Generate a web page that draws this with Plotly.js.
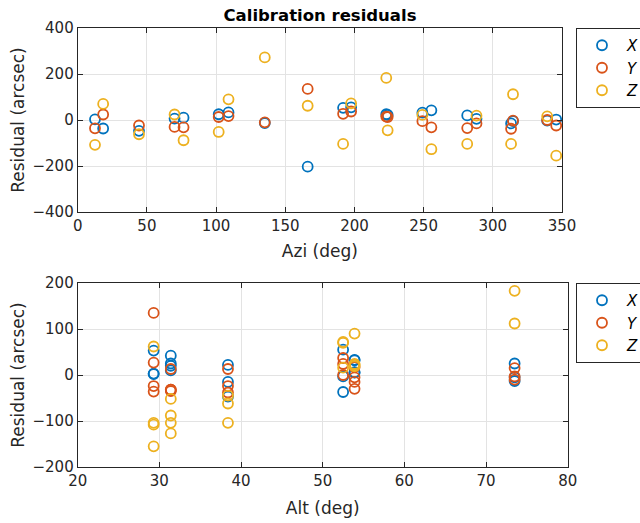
<!DOCTYPE html>
<html>
<head>
<meta charset="utf-8">
<script src="https://cdn.plot.ly/plotly-3.0.1.min.js"></script>
<style>html,body{margin:0;padding:0;background:#fff;overflow:hidden;}#chart{width:640px;height:523px;}</style>
</head>
<body>
<div id="chart"></div>
<script>
// Observation geometry (deg)
const azi = [12.5, 18.4, 44.3, 70.0, 76.5, 101.9, 109.0, 135.2, 166.2, 191.8, 197.6, 223.0, 224.0, 249.1, 255.6, 281.5, 288.2, 313.2, 314.6, 339.3, 345.8];
const alt = [29.3, 52.5, 38.4, 53.9, 31.4, 31.4, 53.9, 73.5, 29.3, 29.3, 52.5, 73.5, 38.4, 53.9, 31.4, 31.4, 53.9, 38.4, 73.5, 52.5, 29.3];
// Residuals (arcsec)
const resX = [3, -37, -47, 6, 10, 25, 33, -13, -203, 53, 55, 25, 22, 32, 42, 20, 5, -15, -5, -3, 2];
const resY = [-36, 24, -24, -30, -32, 13, 17, -10, 135, 27, 37, 15, 13, -5, -32, -35, -15, -38, -3, 0, -24];
const resZ = [-108, 70, -62, 24, -88, -52, 90, 272, 62, -104, 72, 183, -45, 22, -127, -104, 19, -104, 112, 16, -155];

const seriesNames = ['<i>X</i>', '<i>Y</i>', '<i>Z</i>'];
const seriesVals = [resX, resY, resZ];
const colors = ['#0072BD', '#D95319', '#EDB120'];

const topRange = [-400, 400];
const botRange = [-200, 200];
// points whose centre lies outside the axis limits are not drawn (as in the original figure)
function inRange(v, r) { return v.map(d => (d >= r[0] && d <= r[1]) ? d : null); }

const FONT = 'DejaVu Sans, Liberation Sans, Arial, sans-serif';
const traces = [];
seriesVals.forEach((v, i) => {
  traces.push({x: azi, y: inRange(v, topRange), xaxis: 'x', yaxis: 'y', type: 'scatter', mode: 'markers', name: seriesNames[i],
    legend: 'legend', cliponaxis: true,
    marker: {symbol: 'circle-open', size: 10, color: colors[i], line: {width: 1.8, color: colors[i]}}});
});
seriesVals.forEach((v, i) => {
  traces.push({x: alt, y: inRange(v, botRange), xaxis: 'x2', yaxis: 'y2', type: 'scatter', mode: 'markers', name: seriesNames[i],
    legend: 'legend2', cliponaxis: true,
    marker: {symbol: 'circle-open', size: 10, color: colors[i], line: {width: 1.8, color: colors[i]}}});
});

const W = 640, H = 523;
function axisCommon() {
  return {showline: true, mirror: 'ticks', linecolor: '#262626', linewidth: 1,
    ticks: 'inside', ticklen: 5, tickcolor: '#262626', tickwidth: 1,
    showgrid: true, gridcolor: '#e3e3e3', gridwidth: 1, zeroline: false,
    tickfont: {family: FONT, size: 15, color: '#262626'}, automargin: false};
}
const titleFont = {family: FONT, size: 17, color: '#262626'};
const legendCommon = {xanchor: 'left', yanchor: 'top', xref: 'paper', yref: 'paper',
  bordercolor: '#262626', borderwidth: 1, bgcolor: '#fff', font: {family: FONT, size: 15, color: '#000'}, itemwidth: 40};
const layout = {
  width: W, height: H,
  margin: {l: 0, r: 0, t: 0, b: 0, autoexpand: false},
  paper_bgcolor: '#ffffff', plot_bgcolor: '#ffffff',
  font: {family: FONT, color: '#262626'},
  title: {text: '<b>Calibration residuals</b>', font: {family: FONT, size: 16.5, color: '#000'},
    x: 320 / W, xanchor: 'center', xref: 'paper', y: 1 - 15 / H, yanchor: 'middle', yref: 'container'},
  xaxis: Object.assign(axisCommon(), {domain: [77.7 / W, 562 / W], range: [0, 350], tickvals: [0, 50, 100, 150, 200, 250, 300, 350],
    anchor: 'y', title: {text: 'Azi (deg)', font: titleFont, standoff: 11}}),
  yaxis: Object.assign(axisCommon(), {domain: [1 - 212 / H, 1 - 28 / H], range: topRange, tickvals: [-400, -200, 0, 200, 400],
    anchor: 'x', title: {text: 'Residual (arcsec)', font: titleFont, standoff: 3}}),
  xaxis2: Object.assign(axisCommon(), {domain: [77.7 / W, 567.7 / W], range: [20, 80], tickvals: [20, 30, 40, 50, 60, 70, 80],
    anchor: 'y2', title: {text: 'Alt (deg)', font: titleFont, standoff: 13}}),
  yaxis2: Object.assign(axisCommon(), {domain: [1 - 467 / H, 1 - 283 / H], range: botRange, tickvals: [-200, -100, 0, 100, 200],
    anchor: 'x2', title: {text: 'Residual (arcsec)', font: titleFont, standoff: 3}}),
  legend: Object.assign({}, legendCommon, {x: 576 / W, y: 1 - 28 / H}),
  legend2: Object.assign({}, legendCommon, {x: 576 / W, y: 1 - 283 / H}),
  showlegend: true
};
Plotly.newPlot('chart', traces, layout, {displayModeBar: false, staticPlot: true});
</script>
</body>
</html>
